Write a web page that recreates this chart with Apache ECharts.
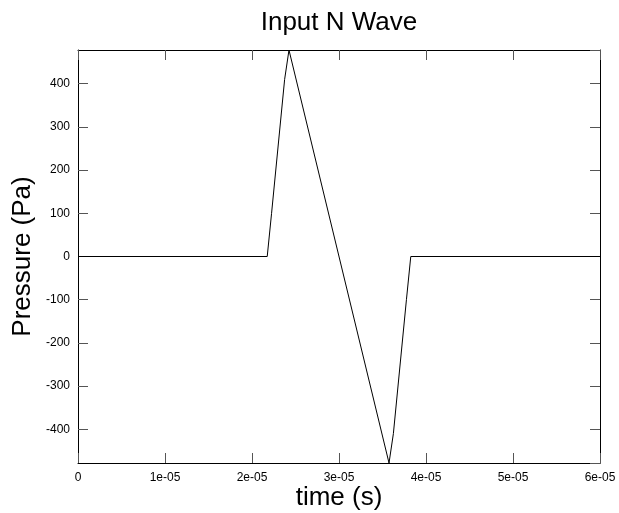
<!DOCTYPE html>
<html>
<head>
<meta charset="utf-8">
<script src="https://cdn.jsdelivr.net/npm/echarts@6/dist/echarts.min.js"></script>
<style>
  html, body { margin: 0; padding: 0; background: #fff; }
  #chart { width: 619px; height: 513px; }
</style>
</head>
<body>
<div id="chart"></div>
<script>
// N wave samples
const times = [0, 2.175e-05, 2.225e-05, 2.375e-05, 2.425e-05, 3.575e-05, 3.625e-05, 3.775e-05, 3.825e-05, 6e-05]
const pressures = [0, 0, 100, 410, 478, -478, -410, -100, 0, 0]
const xTickLabels = ['0', '1e-05', '2e-05', '3e-05', '4e-05', '5e-05', '6e-05']

const font = 'Liberation Sans, Arial, Helvetica, sans-serif'
const chart = echarts.init(document.getElementById('chart'))

const tickStyle = { lineStyle: { color: '#555', width: 1 } }
const lineBorder = { show: true, onZero: false, lineStyle: { color: '#000', width: 1 } }

const option = {
  animation: false,
  title: {
    text: 'Input N Wave',
    left: 334,
    top: 5,
    textAlign: 'center',
    textStyle: { fontFamily: font, fontSize: 26, fontWeight: 'normal', color: '#000' }
  },
  grid: { left: 78, right: 19, top: 50, bottom: 50, containLabel: false, outerBoundsMode: 'none' },
  xAxis: [
    {
      type: 'value',
      min: 0,
      max: 6e-05,
      interval: 1e-05,
      name: 'time (s)',
      nameLocation: 'middle',
      nameGap: 22,
      nameMoveOverlap: false,
      nameTextStyle: { fontFamily: font, fontSize: 26, color: '#000' },
      axisLine: lineBorder,
      axisTick: Object.assign({ inside: true, length: 10 }, tickStyle),
      splitLine: { show: false },
      axisLabel: {
        margin: 9,
        fontFamily: font,
        fontSize: 12,
        color: '#000',
        formatter: function (v) { return xTickLabels[Math.round(v / 1e-05)] }
      }
    },
    {
      type: 'value',
      position: 'top',
      min: 0,
      max: 6e-05,
      interval: 1e-05,
      axisLine: lineBorder,
      axisTick: Object.assign({ inside: true, length: 10 }, tickStyle),
      axisLabel: { show: false },
      splitLine: { show: false }
    }
  ],
  yAxis: [
    {
      type: 'value',
      min: -478,
      max: 478,
      splitNumber: 10,
      name: 'Pressure (Pa)',
      nameLocation: 'middle',
      nameGap: 42,
      nameMoveOverlap: false,
      nameTextStyle: { fontFamily: font, fontSize: 26, color: '#000' },
      axisLine: lineBorder,
      axisTick: Object.assign({ inside: true, length: 10 }, tickStyle),
      splitLine: { show: false },
      axisLabel: {
        margin: 8,
        fontFamily: font,
        fontSize: 12,
        color: '#000',
        showMinLabel: false,
        showMaxLabel: false
      }
    },
    {
      type: 'value',
      position: 'right',
      min: -478,
      max: 478,
      splitNumber: 10,
      axisLine: lineBorder,
      axisTick: Object.assign({ inside: true, length: 10 }, tickStyle),
      axisLabel: { show: false },
      splitLine: { show: false }
    }
  ],
  series: [
    {
      type: 'line',
      data: times.map(function (t, i) { return [t, pressures[i]] }),
      showSymbol: false,
      lineStyle: { color: '#000', width: 1 },
      itemStyle: { color: '#000' }
    }
  ]
}
chart.setOption(option)
</script>
</body>
</html>
